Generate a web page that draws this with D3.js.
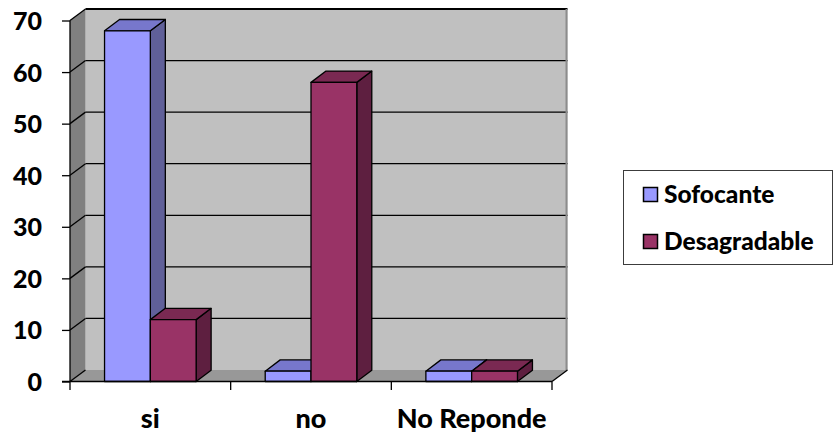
<!DOCTYPE html>
<html>
<head>
<meta charset="utf-8">
<script src="https://cdn.jsdelivr.net/npm/d3@7"></script>
<style>
  html, body { margin: 0; padding: 0; background: #fff; }
  svg { display: block; }
  text { font-family: Lato, "Open Sans", sans-serif; font-weight: 900; fill: #000; }
</style>
</head>
<body>
<svg id="chart" width="836" height="434"></svg>
<script>
// Responses per category, two series
const categories = ["si", "no", "No Reponde"];
const seriesNames = ["Sofocante", "Desagradable"];
const sofocante = [68, 2, 2];
const desagradable = [12, 58, 2];
const yTicks = [0, 10, 20, 30, 40, 50, 60, 70];

const seriesValues = [sofocante, desagradable];
const colors = {
  Sofocante:    { front: "#9999ff", top: "#7777cc", side: "#606099" },
  Desagradable: { front: "#993366", top: "#7a2952", side: "#5e1f40" }
};

const svg = d3.select("#chart");

// front plane of the plot box, and the depth offset of the 3D walls
const front = { left: 70, right: 552, top: 20.5, bottom: 381.5 };
const depth = { dx: 15.5, dy: -11.5 };
const barDepth = { dx: 15, dy: -11.3 };

const y = d3.scaleLinear().domain([0, 70]).range([front.bottom, front.top]);
const x0 = d3.scaleBand().domain(categories).range([front.left, front.right]).padding(0);
const inset = x0.bandwidth() * 0.215;
const x1 = d3.scaleBand().domain(seriesNames).range([inset, x0.bandwidth() - inset]).padding(0);

const pts = a => a.map(p => p.join(",")).join(" ");

// walls and floor
const bx = front.left + depth.dx, by = y(0) + depth.dy;
const backRight = front.right + depth.dx;
svg.append("rect")
  .attr("x", bx).attr("y", y(70) + depth.dy)
  .attr("width", backRight - bx).attr("height", by - (y(70) + depth.dy))
  .attr("fill", "#c0c0c0");
svg.append("polygon")
  .attr("points", pts([[front.left, y(70)], [bx, y(70) + depth.dy], [bx, by], [front.left, y(0)]]))
  .attr("fill", "#808080");
svg.append("polygon")
  .attr("points", pts([[front.left, y(0)], [bx, by], [backRight, by], [front.right, y(0)]]))
  .attr("fill", "#989898");

// gridlines on the back wall and the side wall
yTicks.forEach(t => {
  const yf = y(t);
  svg.append("line")
    .attr("x1", front.left).attr("y1", yf)
    .attr("x2", bx).attr("y2", yf + depth.dy)
    .attr("stroke", "#000").attr("stroke-width", 1.3);
  if (t > 0) {
    svg.append("line")
      .attr("x1", bx).attr("y1", yf + depth.dy)
      .attr("x2", backRight).attr("y2", yf + depth.dy)
      .attr("stroke", "#000").attr("stroke-width", t === 70 ? 2 : 1.3);
  }
});
// right edge of the back wall
svg.append("line")
  .attr("x1", backRight - 1).attr("y1", y(70) + depth.dy)
  .attr("x2", backRight - 1).attr("y2", by)
  .attr("stroke", "#8c8c8c").attr("stroke-width", 2);
// right edge of the floor
svg.append("line")
  .attr("x1", front.right).attr("y1", y(0))
  .attr("x2", backRight).attr("y2", by)
  .attr("stroke", "#000").attr("stroke-width", 1.3);

// bars: side, top, front faces
categories.forEach((cat, ci) => {
  seriesNames.forEach((name, si) => {
    const v = seriesValues[si][ci];
    const xl = x0(cat) + x1(name), xr = xl + x1.bandwidth();
    const yt = y(v), yb = y(0);
    const c = colors[name];
    const g = svg.append("g").attr("stroke", "#000").attr("stroke-width", 1.3).attr("stroke-linejoin", "round");
    g.append("polygon")
      .attr("points", pts([[xr, yt], [xr + barDepth.dx, yt + barDepth.dy], [xr + barDepth.dx, yb + barDepth.dy], [xr, yb]]))
      .attr("fill", c.side);
    g.append("polygon")
      .attr("points", pts([[xl, yt], [xl + barDepth.dx, yt + barDepth.dy], [xr + barDepth.dx, yt + barDepth.dy], [xr, yt]]))
      .attr("fill", c.top);
    g.append("rect")
      .attr("x", xl).attr("y", yt).attr("width", xr - xl).attr("height", yb - yt)
      .attr("fill", c.front);
  });
});

// value axis
svg.append("line")
  .attr("x1", front.left).attr("y1", y(70)).attr("x2", front.left).attr("y2", y(0))
  .attr("stroke", "#000").attr("stroke-width", 1.3);
const yAxis = svg.append("g").attr("transform", `translate(${front.left},0)`)
  .call(d3.axisLeft(y).tickValues(yTicks).tickSize(8).tickPadding(20));
yAxis.select(".domain").remove();
yAxis.selectAll(".tick line").attr("stroke", "#000").attr("stroke-width", 1.3);
yAxis.selectAll(".tick text")
  .attr("font-size", 25).attr("font-family", null).attr("dy", "0.36em").attr("fill", "#000");

// category axis
const xAxis = svg.append("g").attr("transform", `translate(0,${y(0)})`)
  .call(d3.axisBottom(x0).tickSize(0).tickPadding(0));
xAxis.select(".domain").attr("stroke", "#000").attr("stroke-width", 1.3)
  .attr("d", `M${front.left - 8},0H${front.right}`);
xAxis.selectAll(".tick text").attr("font-size", 27).attr("font-family", null)
  .attr("y", 46).attr("dy", 0).attr("fill", "#000");
const boundaries = [front.left].concat(categories.map(c => x0(c) + x0.bandwidth()));
svg.append("g").selectAll("line").data(boundaries).join("line")
  .attr("x1", d => d).attr("x2", d => d)
  .attr("y1", y(0)).attr("y2", y(0) + 8.5)
  .attr("stroke", "#000").attr("stroke-width", 1.3);

// legend
const legend = svg.append("g");
legend.append("rect")
  .attr("x", 623.5).attr("y", 170.5).attr("width", 209).attr("height", 94)
  .attr("fill", "#fff").attr("stroke", "#3c3c3c").attr("stroke-width", 1);
seriesNames.forEach((name, i) => {
  const ly = 194.5 + i * 47;
  legend.append("rect")
    .attr("x", 643.5).attr("y", ly - 7).attr("width", 14).attr("height", 14)
    .attr("fill", colors[name].front).attr("stroke", "#000").attr("stroke-width", 1.5);
  legend.append("text")
    .attr("x", 664).attr("y", ly).attr("dy", "0.36em")
    .attr("font-size", 24.5).text(name);
});
</script>
</body>
</html>
